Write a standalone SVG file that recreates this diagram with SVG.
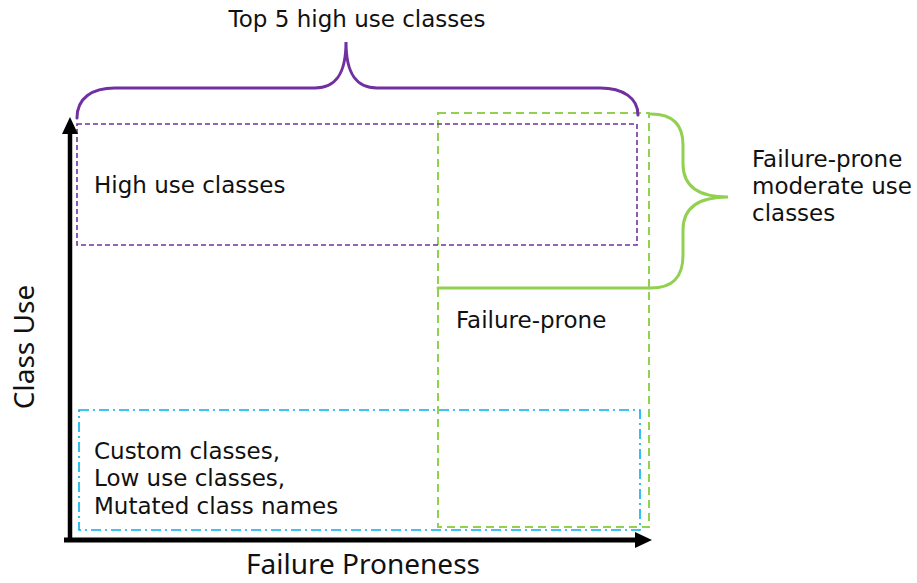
<svg xmlns="http://www.w3.org/2000/svg" width="917" height="583" viewBox="0 0 917 583">
<style>
.t{font-family:"DejaVu Sans","Verdana",sans-serif;font-size:23px;fill:#111}
.ax{font-family:"Noto Sans","Open Sans",sans-serif;font-size:28px;fill:#111}
.pb{fill:none;stroke:#7030A0;stroke-width:1.6;stroke-dasharray:5,3}
.gb{fill:none;stroke:#92D050;stroke-width:2;stroke-dasharray:8,5}
.bb{fill:none;stroke:#00B0F0;stroke-width:1.6;stroke-dasharray:10,4,2,4}
.br{fill:none;stroke-width:3;stroke-linecap:round}
</style>
<rect width="917" height="583" fill="#fff"/>
<g id="failure-prone-region">
<rect class="gb" x="438" y="113" width="211" height="414"/>
<text class="t" x="456" y="328">Failure-prone</text>
</g>
<g id="high-use">
<rect class="pb" x="77" y="124" width="560" height="121"/>
<text class="t" x="94" y="193">High use classes</text>
</g>
<g id="low-use">
<rect class="bb" x="79" y="410" width="561" height="120"/>
<text class="t" x="94" y="459">Custom classes,</text>
<text class="t" x="94" y="486">Low use classes,</text>
<text class="t" x="94" y="514">Mutated class names</text>
</g>
<g id="top5">
<path class="br" stroke="#7030A0" d="M77,118 C77,98 92,88 115,88 L315,88 C335,88 346,75 346,42 C346,75 357,88 377,88 L600,88 C623,88 638,98 638,115"/>
<text class="t" x="357" y="27" text-anchor="middle">Top 5 high use classes</text>
</g>
<g id="moderate">
<path class="br" stroke="#92D050" d="M438,288 L651,288 C672,288 683,278 683,255 L683,230 C683,207 700,197 728,197 C700,197 683,187 683,164 L683,145 C683,124 672,114 651,114"/>
<text class="t" x="752" y="167">Failure-prone</text>
<text class="t" x="752" y="194">moderate use</text>
<text class="t" x="752" y="221">classes</text>
</g>
<g id="axes">
<path d="M70,541 L70,132" stroke="#000" stroke-width="4.5" fill="none"/>
<polygon points="70,117 62,134 78,134" fill="#000"/>
<path d="M64,540 L637,540" stroke="#000" stroke-width="5" fill="none"/>
<polygon points="652,540 635,532 635,548" fill="#000"/>
<text class="ax" x="363" y="574" text-anchor="middle">Failure Proneness</text>
<text class="ax" transform="translate(34,347) rotate(-90)" text-anchor="middle">Class Use</text>
</g>
</svg>
